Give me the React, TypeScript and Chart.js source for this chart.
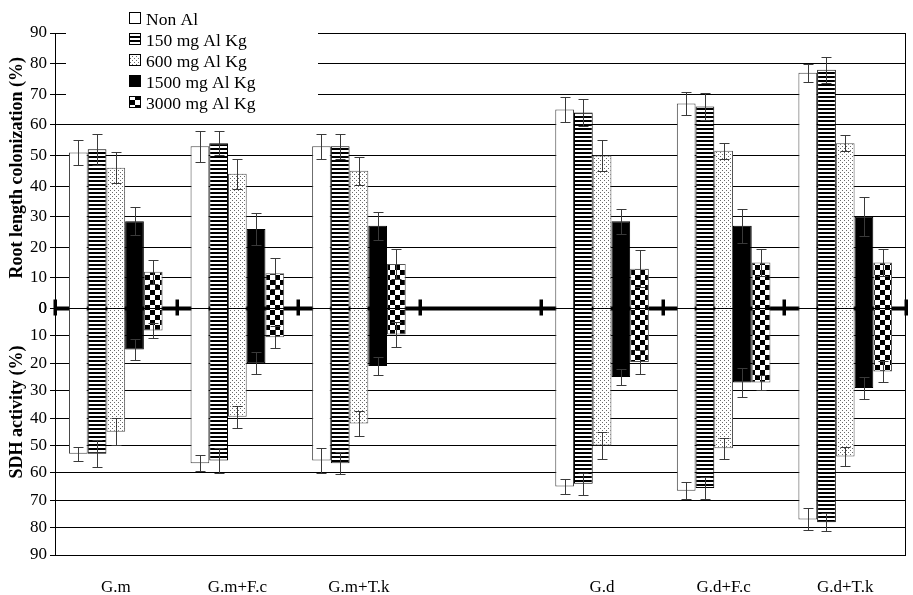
import React, { useEffect, useRef } from 'react';
import { Chart, registerables } from 'chart.js';

Chart.register(...registerables);

// ---------- data ----------
const categories = ['G.m', 'G.m+F.c', 'G.m+T.k', '', 'G.d', 'G.d+F.c', 'G.d+T.k'];
const seriesNames = ['Non Al', '150 mg Al Kg', '600 mg Al Kg', '1500 mg Al Kg', '3000 mg Al Kg'];

// Root length colonization (%) – upper half
const rootNonAl = [51, 53, 53, null, 65, 67, 77];
const root150 = [52, 54, 53, null, 64, 66, 78];
const root600 = [46, 44, 45, null, 50, 51.5, 54];
const root1500 = [28.5, 26, 27, null, 28.5, 27, 30];
const root3000 = [12, 11.5, 14.5, null, 13, 15, 15];

const rootErrNonAl = [4, 5, 4, null, 4, 3.7, 3];
const rootErr150 = [5, 4, 4, null, 4.3, 4.4, 4.2];
const rootErr600 = [5, 5, 4.5, null, 5.2, 2.7, 2.7];
const rootErr1500 = [4.6, 5.3, 4.6, null, 4, 5.5, 6.3];
const rootErr3000 = [4, 5, 5, null, 6, 4.3, 4.3];

// SDH activity (%) – lower half (magnitudes)
const sdhNonAl = [53, 56.5, 55.5, null, 65, 66.5, 77];
const sdh150 = [53, 55.5, 56.5, null, 64, 65.5, 78];
const sdh600 = [45, 39.5, 42, null, 50, 51, 54];
const sdh1500 = [15, 20, 21, null, 25, 27, 29];
const sdh3000 = [8, 10.5, 9.5, null, 19.5, 27, 23];

const sdhErrNonAl = [2.5, 3, 4.4, null, 2.6, 3, 4];
const sdhErr150 = [5, 4.5, 4, null, 4, 4, 3.3];
const sdhErr600 = [5, 4, 4.4, null, 5, 3.8, 3.6];
const sdhErr1500 = [3.7, 4, 3.3, null, 3, 5.4, 4];
const sdhErr3000 = [2.7, 4, 4.6, null, 4.3, 2.8, 4];

const yTicksMax = 90;
const yTickStep = 10;

const rootSeries = [rootNonAl, root150, root600, root1500, root3000];
const rootErrors = [rootErrNonAl, rootErr150, rootErr600, rootErr1500, rootErr3000];
const sdhSeries = [sdhNonAl, sdh150, sdh600, sdh1500, sdh3000];
const sdhErrors = [sdhErrNonAl, sdhErr150, sdhErr600, sdhErr1500, sdhErr3000];

const FONT = "'Liberation Serif', 'Times New Roman', serif";

function makePattern(kind: string): CanvasPattern | string {
  const c = document.createElement('canvas');
  const ctx = c.getContext('2d')!;
  if (kind === 'white') return '#ffffff';
  if (kind === 'black') return '#000000';
  if (kind === 'stripes') {
    c.width = 4; c.height = 4;
    ctx.fillStyle = '#fff'; ctx.fillRect(0, 0, 4, 4);
    ctx.fillStyle = '#000'; ctx.fillRect(0, 0, 4, 2);
  } else if (kind === 'dots') {
    c.width = 4; c.height = 4;
    ctx.fillStyle = '#fff'; ctx.fillRect(0, 0, 4, 4);
    ctx.fillStyle = '#6a6a6a';
    ctx.fillRect(0, 0, 1, 1);
    ctx.fillRect(2, 2, 1, 1);
  } else if (kind === 'checker') {
    c.width = 10; c.height = 10;
    ctx.fillStyle = '#fff'; ctx.fillRect(0, 0, 10, 10);
    ctx.fillStyle = '#000';
    ctx.fillRect(0, 0, 5, 5);
    ctx.fillRect(5, 5, 5, 5);
  }
  return ctx.createPattern(c, 'repeat')!;
}

export default function App() {
  const ref = useRef<HTMLCanvasElement>(null);

  useEffect(() => {
    if (!ref.current) return;
    const fills = [
      makePattern('white'),
      makePattern('stripes'),
      makePattern('dots'),
      makePattern('black'),
      makePattern('checker'),
    ];
    const borders = ['#444', '#000', '#555', '#000', '#555'];

    const datasets: any[] = [];
    rootSeries.forEach((vals, i) => {
      datasets.push({
        label: seriesNames[i],
        data: vals,
        errors: rootErrors[i],
        yAxisID: 'yTop',
        stack: 's' + i,
        backgroundColor: fills[i],
        borderColor: borders[i],
        borderWidth: 1,
        categoryPercentage: 0.77,
        barPercentage: 1,
      });
    });
    sdhSeries.forEach((vals, i) => {
      datasets.push({
        label: seriesNames[i] + ' (SDH)',
        data: vals.map((v) => (v == null ? null : -v)),
        errors: sdhErrors[i],
        yAxisID: 'yBot',
        stack: 's' + i,
        backgroundColor: fills[i],
        borderColor: borders[i],
        borderWidth: 1,
        categoryPercentage: 0.77,
        barPercentage: 1,
      });
    });

    const zeroLinePlugin = {
      id: 'zeroLine',
      beforeDatasetsDraw(chart: any) {
        const { ctx, chartArea } = chart;
        const y0 = chart.scales.yTop.getPixelForValue(0);
        ctx.save();
        ctx.fillStyle = '#000';
        ctx.fillRect(chartArea.left, y0 - 2, chartArea.right - chartArea.left, 4);
        const n = categories.length;
        const w = (chartArea.right - chartArea.left) / n;
        for (let i = 0; i <= n; i++) {
          const x = chartArea.left + i * w;
          ctx.fillRect(Math.round(x) - 1.5, y0 - 9, 3.5, 16);
        }
        ctx.restore();
      },
    };

    const errorBarPlugin = {
      id: 'errorBars',
      afterDatasetsDraw(chart: any) {
        const { ctx } = chart;
        ctx.save();
        ctx.strokeStyle = '#3a3a3a';
        ctx.lineWidth = 1;
        chart.data.datasets.forEach((ds: any, di: number) => {
          const meta = chart.getDatasetMeta(di);
          const scale = chart.scales[ds.yAxisID];
          meta.data.forEach((bar: any, i: number) => {
            const v = ds.data[i];
            const e = ds.errors[i];
            if (v == null || e == null) return;
            const x = Math.round(bar.x) + 0.5;
            const y1 = Math.round(scale.getPixelForValue(v + e)) + 0.5;
            const y2 = Math.round(scale.getPixelForValue(v - e)) + 0.5;
            ctx.beginPath();
            ctx.moveTo(x, y1); ctx.lineTo(x, y2);
            ctx.moveTo(x - 5, y1); ctx.lineTo(x + 5, y1);
            ctx.moveTo(x - 5, y2); ctx.lineTo(x + 5, y2);
            ctx.stroke();
          });
        });
        ctx.restore();
      },
    };

    const decorPlugin = {
      id: 'decor',
      afterDraw(chart: any) {
        const { ctx, chartArea } = chart;
        ctx.save();
        // right border
        ctx.strokeStyle = '#000';
        ctx.lineWidth = 1;
        ctx.beginPath();
        ctx.moveTo(Math.round(chartArea.right) - 0.5, chartArea.top);
        ctx.lineTo(Math.round(chartArea.right) - 0.5, chartArea.bottom);
        ctx.stroke();

        // axis titles
        ctx.fillStyle = '#000';
        ctx.font = `bold 18px ${FONT}`;
        ctx.textAlign = 'center';
        ctx.textBaseline = 'middle';
        const yTop = chart.scales.yTop;
        ctx.save();
        ctx.translate(17, (yTop.top + yTop.bottom) / 2 - 3);
        ctx.rotate(-Math.PI / 2);
        ctx.fillText('Root length colonization (%)', 0, 0);
        ctx.restore();
        const yBot = chart.scales.yBot;
        ctx.save();
        ctx.translate(17, yBot.top + (yBot.bottom - yBot.top) * 0.42);
        ctx.rotate(-Math.PI / 2);
        ctx.fillText('SDH activity (%)', 0, 0);
        ctx.restore();

        // legend
        ctx.fillStyle = '#fff';
        ctx.fillRect(66, 0, 252, 116);
        ctx.font = `17.5px ${FONT}`;
        ctx.textAlign = 'left';
        ctx.textBaseline = 'middle';
        seriesNames.forEach((name, i) => {
          const y = 19 + i * 21;
          ctx.fillStyle = fills[i] as any;
          ctx.fillRect(129.5, y - 6.5, 11, 11);
          ctx.strokeStyle = '#000';
          ctx.strokeRect(129.5, y - 6.5, 11, 11);
          ctx.fillStyle = '#000';
          ctx.fillText(name, 146, y + 1);
        });
        ctx.restore();
      },
    };

    const tickFont = { family: FONT, size: 17 };

    const chart = new Chart(ref.current, {
      type: 'bar',
      data: { labels: categories, datasets },
      options: {
        animation: false,
        responsive: false,
        layout: { padding: { top: 33, right: 7, left: 0, bottom: 0 } },
        plugins: { legend: { display: false }, tooltip: { enabled: false } },
        scales: {
          x: {
            stacked: true,
            grid: { display: false, drawTicks: false },
            border: { display: false },
            ticks: { font: tickFont, color: '#000', padding: 22, maxRotation: 0, autoSkip: false },
            afterFit(s: any) { s.height = 40; },
          },
          yTop: {
            type: 'linear',
            position: 'left',
            stack: 'y',
            stackWeight: 275.5,
            weight: 2,
            min: 0,
            max: yTicksMax,
            ticks: { stepSize: yTickStep, font: tickFont, color: '#000', padding: 3, autoSkip: false },
            grid: { color: '#000', tickLength: 5 },
            border: { color: '#000' },
            afterFit(s: any) { s.width = 55; },
          },
          yBot: {
            type: 'linear',
            position: 'left',
            stack: 'y',
            stackWeight: 246.5,
            weight: 1,
            min: -yTicksMax,
            max: 0,
            ticks: {
              stepSize: yTickStep,
              font: tickFont,
              color: '#000',
              padding: 3,
              autoSkip: false,
              callback: (v: any) => String(Math.abs(Number(v))),
            },
            grid: { color: '#000', tickLength: 5 },
            border: { color: '#000' },
            afterFit(s: any) { s.width = 55; },
          },
        } as any,
      },
      plugins: [zeroLinePlugin, errorBarPlugin, decorPlugin],
    });
    return () => chart.destroy();
  }, []);

  return (
    <div style={{ position: 'fixed', left: 0, top: 0, width: 913, height: 595, background: '#fff' }}>
      <canvas ref={ref} width={913} height={595} />
    </div>
  );
}
